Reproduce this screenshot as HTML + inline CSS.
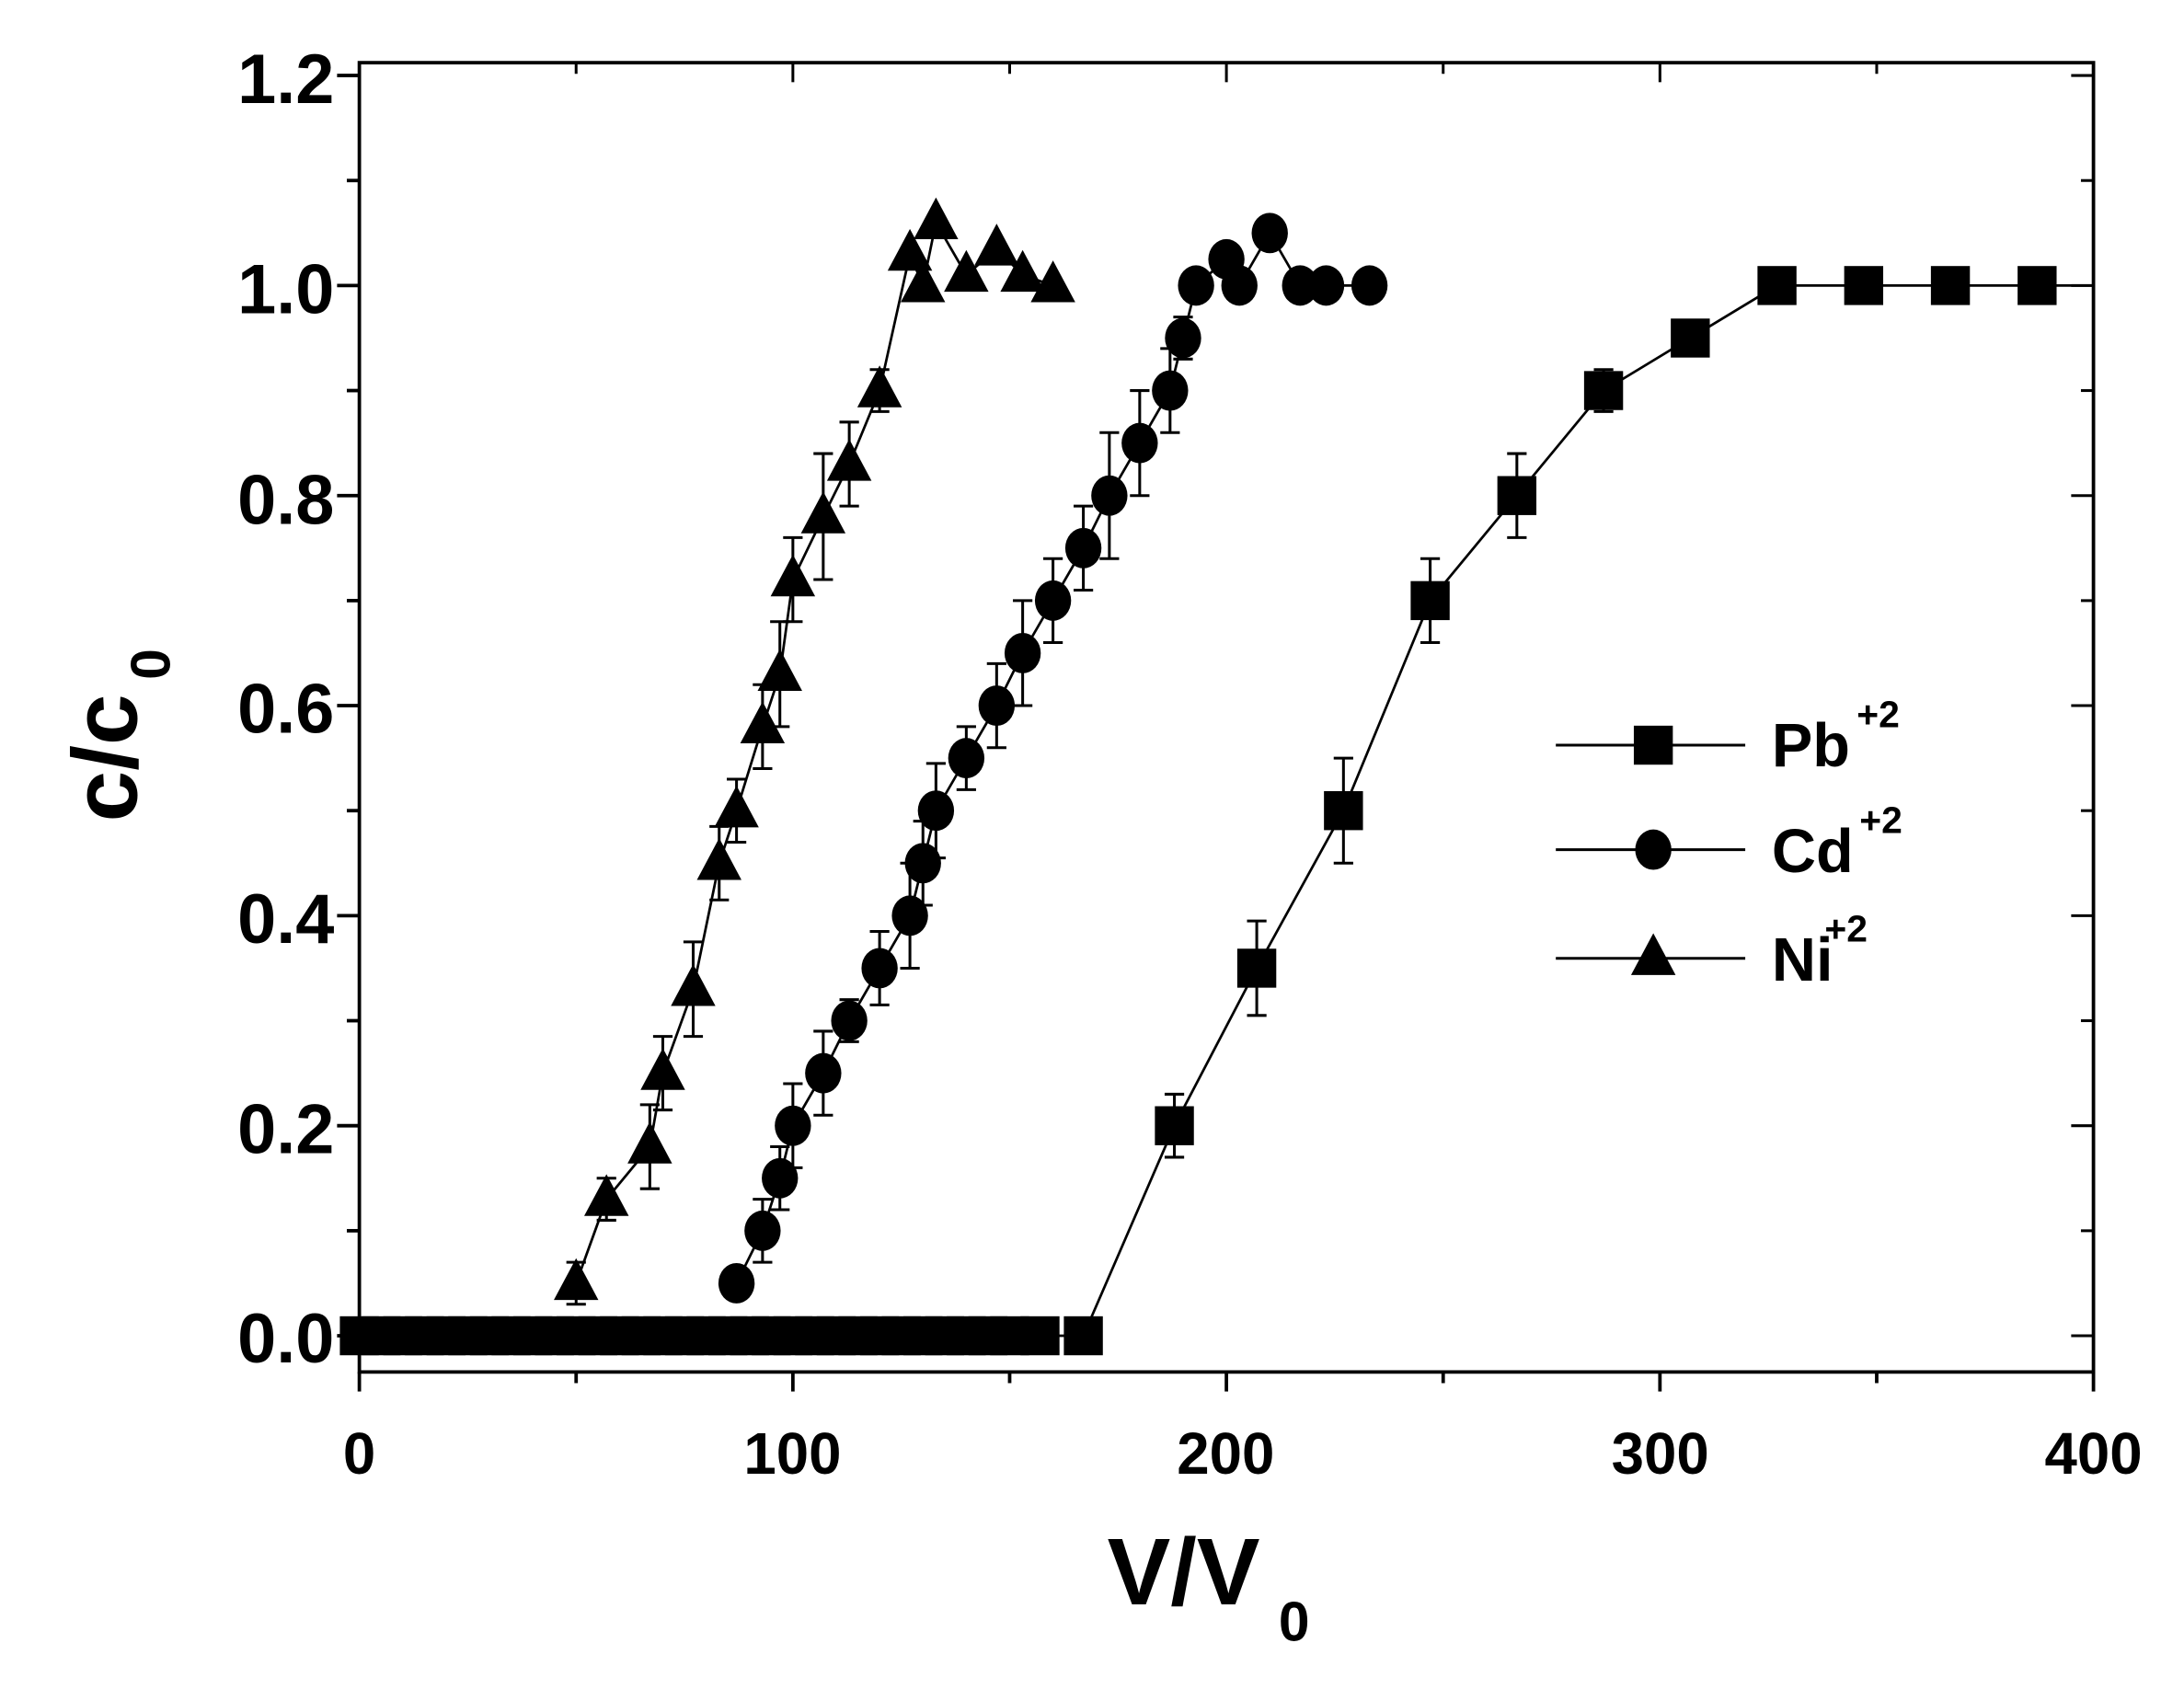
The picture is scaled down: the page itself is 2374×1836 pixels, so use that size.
<!DOCTYPE html>
<html><head><meta charset="utf-8"><style>
html,body{margin:0;padding:0;background:#fff;}
svg{display:block;}
text{font-family:"Liberation Sans",Arial,sans-serif;font-weight:bold;fill:#000;}
</style></head><body>
<svg id="s" width="2374" height="1836" viewBox="0 0 1568 1212.6" preserveAspectRatio="none" xmlns="http://www.w3.org/2000/svg">
<rect x="0" y="0" width="1568" height="1213" fill="#fff"/>
<g id="g"></g>
<text x="240" y="74" font-size="50" text-anchor="end">1.2</text>
<text x="240" y="225" font-size="50" text-anchor="end">1.0</text>
<text x="240" y="376" font-size="50" text-anchor="end">0.8</text>
<text x="240" y="526" font-size="50" text-anchor="end">0.6</text>
<text x="240" y="677" font-size="50" text-anchor="end">0.4</text>
<text x="240" y="828" font-size="50" text-anchor="end">0.2</text>
<text x="240" y="978" font-size="50" text-anchor="end">0.0</text>
<text x="258" y="1058" font-size="42" text-anchor="middle">0</text>
<text x="569" y="1058" font-size="42" text-anchor="middle">100</text>
<text x="880" y="1058" font-size="42" text-anchor="middle">200</text>
<text x="1192" y="1058" font-size="42" text-anchor="middle">300</text>
<text x="1503" y="1058" font-size="42" text-anchor="middle">400</text>
<text x="795" y="1152" font-size="68">V/V</text><text x="918" y="1178" font-size="40">0</text>
<g transform="translate(98,590) rotate(-90)"><text x="0" y="0" font-size="66">c/c</text><text x="102" y="24" font-size="40">0</text></g>
<text x="1272" y="550" font-size="44">Pb</text><text x="1333" y="522" font-size="27">+2</text>
<text x="1272" y="626" font-size="44">Cd</text><text x="1335" y="598" font-size="27">+2</text>
<text x="1272" y="704" font-size="44">Ni</text><text x="1310" y="676" font-size="27">+2</text>
</svg>
<script>
var g=document.getElementById('g'),h='';
function X(v){return 258+v*3.1125}function Y(v){return 959-v*754}
h+='<rect x="258" y="45" width="1245" height="940" fill="none" stroke="#000" stroke-width="2.5"/>';
for(var v=0;v<=400;v+=50){var x=X(v),L=v%100==0?14:8;h+='<line x1="'+x+'" y1="985" x2="'+x+'" y2="'+(985+L)+'" stroke="#000" stroke-width="2.5"/>';h+='<line x1="'+x+'" y1="45" x2="'+x+'" y2="'+(45+L)+'" stroke="#000" stroke-width="2"/>';}
for(var i=0;i<=12;i++){var y=Y(i/10),L=i%2==0?16:9;h+='<line x1="'+(258-L)+'" y1="'+y+'" x2="258" y2="'+y+'" stroke="#000" stroke-width="2.5"/>';h+='<line x1="1503" y1="'+y+'" x2="'+(1503-L)+'" y2="'+y+'" stroke="#000" stroke-width="2"/>';}
function sq(x,y){return '<rect x="'+(x-14)+'" y="'+(y-14)+'" width="28" height="28"/>'}
function ci(x,y){return '<ellipse cx="'+x+'" cy="'+y+'" rx="13" ry="14.5"/>'}
function tr(x,y){return '<polygon points="'+x+','+(y-18)+' '+(x-16)+','+(y+12)+' '+(x+16)+','+(y+12)+'"/>'}
function series(d,m){var p=d.map(function(a){return X(a[0])+','+Y(a[1])}).join(' ');
 h+='<polyline points="'+p+'" fill="none" stroke="#000" stroke-width="1.8"/>';
 d.forEach(function(a){if(a[3])return;var x=X(a[0]),y=Y(a[1]);if(a[2]){h+='<line x1="'+x+'" y1="'+Y(a[1]-a[2])+'" x2="'+x+'" y2="'+Y(a[1]+a[2])+'" stroke="#000" stroke-width="2"/><line x1="'+(x-7)+'" y1="'+Y(a[1]-a[2])+'" x2="'+(x+7)+'" y2="'+Y(a[1]-a[2])+'" stroke="#000" stroke-width="2"/><line x1="'+(x-7)+'" y1="'+Y(a[1]+a[2])+'" x2="'+(x+7)+'" y2="'+Y(a[1]+a[2])+'" stroke="#000" stroke-width="2"/>';}h+=m(x,y);});}
var pb=[];for(var v=0;v<=150;v+=5)pb.push([v,0]);pb.push([157,0],[167,0],[188,0.2,0.03],[207,0.35,0.045],[227,0.5,0.05],[247,0.7,0.04],[267,0.8,0.04],[287,0.9,0.02],[307,0.95,0.01],[327,1],[347,1],[367,1],[387,1],[400,1,0,1]);
var cd=[[87,0.05],[93,0.1,0.03],[97,0.15,0.03],[100,0.2,0.04],[107,0.25,0.04],[113,0.3,0.02],[120,0.35,0.035],[127,0.4,0.05],[130,0.45,0.04],[133,0.5,0.045],[140,0.55,0.03],[147,0.6,0.04],[153,0.65,0.05],[160,0.7,0.04],[167,0.75,0.04],[173,0.8,0.06],[180,0.85,0.05],[187,0.9,0.04],[190,0.95,0.02],[193,1.0],[200,1.025],[203,1.0],[210,1.05],[217,1.0],[223,1.0],[233,1.0]];
var ni=[[50,0.05,0.02],[57,0.13,0.02],[67,0.18,0.04],[70,0.25,0.035],[77,0.33,0.045],[83,0.45,0.035],[87,0.5,0.03],[93,0.58,0.04],[97,0.63,0.05],[100,0.72,0.04],[107,0.78,0.06],[113,0.83,0.04],[120,0.9,0.02],[127,1.03],[130,1.0],[133,1.06],[140,1.01],[147,1.035],[153,1.01],[160,1.0]];
series(pb,sq);series(cd,ci);series(ni,tr);
h+='<rect x="258" y="946" width="470" height="26"/>';
var ly=[535,610,688],mk=[sq,ci,tr];for(var i=0;i<3;i++){h+='<line x1="1117" y1="'+ly[i]+'" x2="1253" y2="'+ly[i]+'" stroke="#000" stroke-width="2"/>'+mk[i](1187,ly[i]);}
g.innerHTML=h;
</script>
</body></html>
